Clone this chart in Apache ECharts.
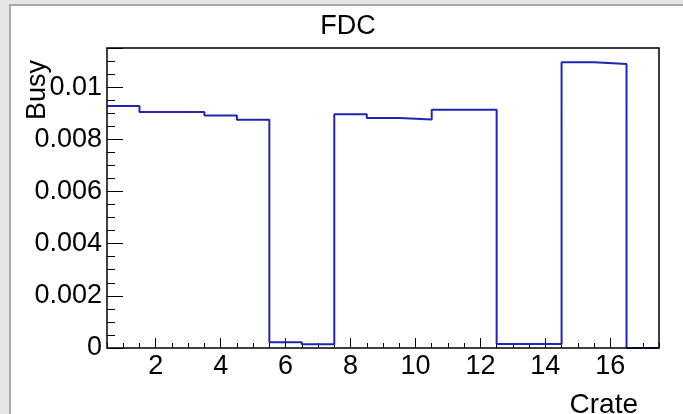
<!DOCTYPE html>
<html>
<head>
<meta charset="utf-8">
<script src="https://cdn.jsdelivr.net/npm/echarts@6/dist/echarts.min.js"></script>
<style>
  html, body { margin: 0; padding: 0; background: #e6e6e6; }
  #pad { position: absolute; left: 9px; top: 4px; width: 690px; height: 420px;
         background: #fff; border-top: 2px solid #a8a8a8; border-left: 2px solid #a8a8a8; }
  #chart { position: absolute; left: 0; top: 0; width: 683px; height: 414px; }
</style>
</head>
<body>
<div id="pad"></div>
<div id="chart"></div>
<script>
// Crate numbers (bin centres) and the busy fraction per crate
const CRATES = [1, 2, 3, 4, 5, 6, 7, 8, 9, 10, 11, 12, 13, 14, 15, 16, 17];
const BUSY = [0.00928, 0.00905, 0.00905, 0.00891, 0.00875, 0.00022, 0.00014, 0.00896,
              0.00882, 0.00876, 0.00913, 0.00913, 0.00015, 0.00015, 0.01095, 0.01089, 0];
const Y_TICKS = [0, 0.002, 0.004, 0.006, 0.008, 0.01];

const FONT = 'Liberation Sans';

// histogram outline: each bin starts at its lower edge; close at the last upper edge
const outline = CRATES.map((c, i) => [c - 0.5, BUSY[i]]);
outline.push([CRATES[CRATES.length - 1] + 0.5, BUSY[BUSY.length - 1]]);

const isEven = (i) => CRATES[i] % 2 === 0;

const chart = echarts.init(document.getElementById('chart'), null, { renderer: 'canvas' });
chart.setOption({
  backgroundColor: 'transparent',
  animation: false,
  grid: {
    left: 107, right: 24, top: 48, bottom: 66, z: 10,
    show: true, borderColor: '#000', borderWidth: 1.5, backgroundColor: 'transparent'
  },
  xAxis: [
    {
      type: 'value', min: 0.5, max: 17.5, interval: 0.5,
      axisLine: { show: false },
      axisTick: { show: true, inside: true, length: 5, lineStyle: { color: '#000', width: 1 } },
      axisLabel: { show: false },
      splitLine: { show: false }
    },
    {
      type: 'category', position: 'bottom', boundaryGap: true,
      data: CRATES.map(String),
      axisLine: { show: false },
      axisTick: { show: true, inside: true, alignWithLabel: true, length: 10,
                  interval: isEven, lineStyle: { color: '#000', width: 1 } },
      axisLabel: { interval: isEven, color: '#000', fontFamily: FONT, fontSize: 27, margin: 5 },
      splitLine: { show: false }
    }
  ],
  yAxis: {
    type: 'value', min: 0, max: 0.0115, interval: 0.002,
    axisLine: { show: false },
    axisTick: { show: true, inside: true, length: 16, lineStyle: { color: '#000', width: 1 } },
    minorTick: { show: true, splitNumber: 4, length: 8, lineStyle: { color: '#000', width: 1 } },
    axisLabel: {
      color: '#000', fontFamily: FONT, fontSize: 27, margin: 5,
      formatter: (v) => {
        const hit = Y_TICKS.find(t => Math.abs(t - v) < 1e-9);
        if (hit === undefined) return '';
        return hit === 0 ? '0' : String(hit);
      }
    },
    splitLine: { show: false }
  },
  series: [{
    type: 'line', xAxisIndex: 0, yAxisIndex: 0,
    step: 'end', symbol: 'none', z: 2,
    data: outline,
    lineStyle: { color: '#2323b4', width: 2 }
  }],
  graphic: [
    { type: 'text', x: 348, y: 27,
      style: { text: 'FDC', fill: '#000', font: '27px "' + FONT + '"', align: 'center', verticalAlign: 'middle' } },
    { type: 'text', x: 638, y: 405,
      style: { text: 'Crate', fill: '#000', font: '28px "' + FONT + '"', align: 'right', verticalAlign: 'middle' } },
    { type: 'text', x: 38, y: 60, rotation: Math.PI / 2,
      style: { text: 'Busy', fill: '#000', font: '27px "' + FONT + '"', align: 'right', verticalAlign: 'middle' } }
  ]
});
</script>
</body>
</html>
